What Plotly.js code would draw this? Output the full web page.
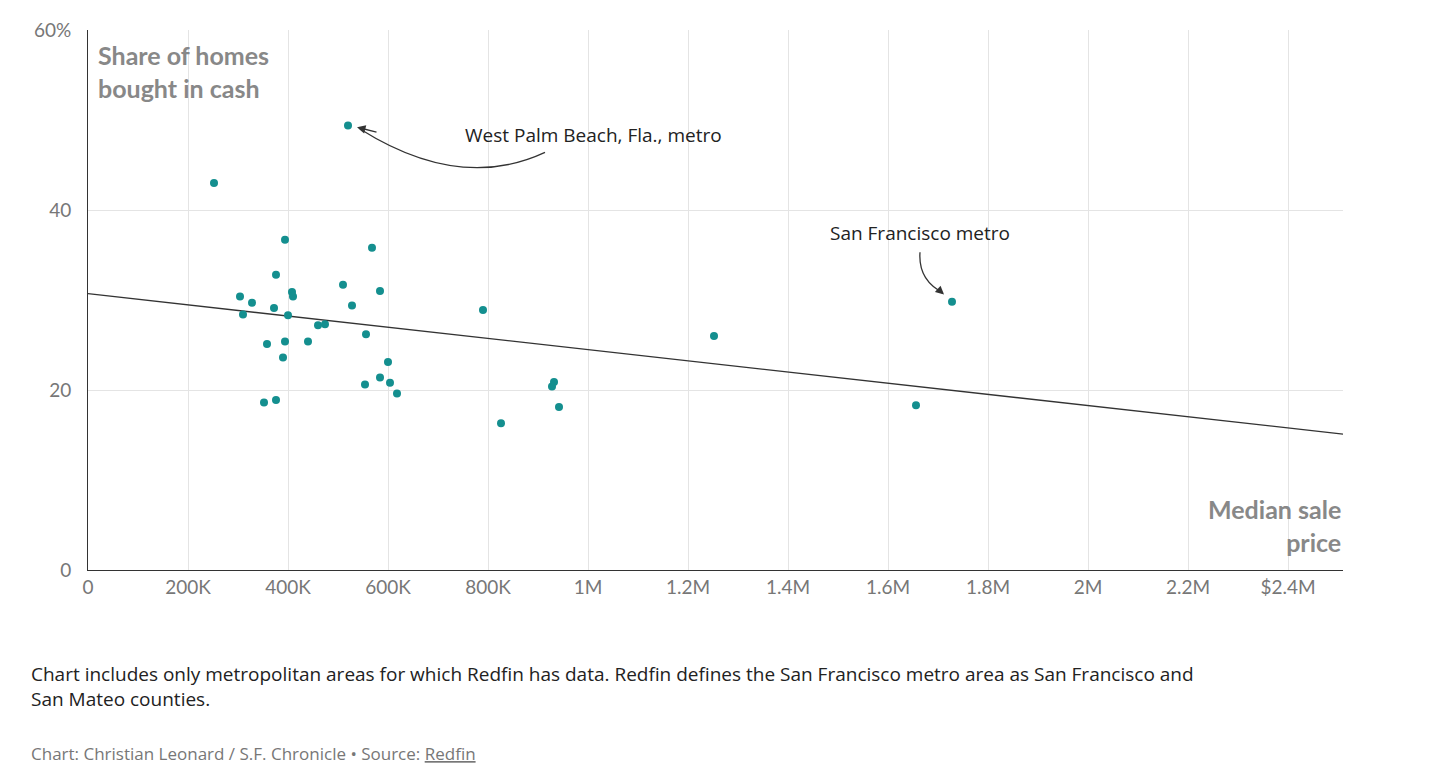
<!DOCTYPE html>
<html>
<head>
<meta charset="utf-8">
<script src="https://cdn.plot.ly/plotly-3.0.1.min.js"></script>
<style>body{margin:0;background:#fff;}</style>
</head>
<body>
<div id="chart" style="width:1434px;height:772px;"></div>
<script>
// median sale price (dollars) and share bought in cash (%)
var price = [252000, 520000, 304000, 310000, 328000, 376000, 372000, 358000, 352000, 376000,
  394000, 400000, 394000, 390000, 408000, 410000, 440000, 460000, 474000, 510000,
  528000, 568000, 556000, 554000, 584000, 584000, 600000, 604000, 618000, 790000,
  826000, 928000, 932000, 942000, 1252000, 1656000, 1728000];
var cashShare = [43.0, 49.4, 30.4, 28.4, 29.7, 32.8, 29.1, 25.1, 18.6, 18.9,
  36.7, 28.3, 25.4, 23.6, 30.9, 30.4, 25.4, 27.2, 27.3, 31.7,
  29.4, 35.8, 26.2, 20.6, 31.0, 21.4, 23.1, 20.8, 19.6, 28.9,
  16.3, 20.4, 20.9, 18.1, 26.0, 18.3, 29.8];
var trendX = [0, 2510000];
var trendY = [30.7, 15.1];

var tickVals = [0, 200000, 400000, 600000, 800000, 1000000, 1200000, 1400000, 1600000, 1800000, 2000000, 2200000, 2400000];
var tickText = ['0', '200K', '400K', '600K', '800K', '1M', '1.2M', '1.4M', '1.6M', '1.8M', '2M', '2.2M', '$2.4M'];

var gray = '#777';
var font = 'Lato, "Open Sans", sans-serif';
var noteFont = '"Open Sans", sans-serif';

var data = [
  {x: trendX, y: trendY, mode: 'lines', line: {color: '#333', width: 1.3}, hoverinfo: 'skip'},
  {x: price, y: cashShare, mode: 'markers', marker: {color: '#148f8f', size: 8}}
];

var layout = {
  width: 1434, height: 772,
  margin: {l: 88, r: 91, t: 30, b: 202},
  showlegend: false,
  plot_bgcolor: '#fff', paper_bgcolor: '#fff',
  font: {family: font, color: gray},
  xaxis: {range: [0, 2510000], tickvals: tickVals, ticktext: tickText, showgrid: true,
    gridcolor: '#e4e4e4', zeroline: false, showline: true, linecolor: '#333',
    tickfont: {size: 19, color: gray}, ticks: '', fixedrange: true},
  yaxis: {range: [0, 60], tickvals: [0, 20, 40, 60], ticktext: ['0', '20', '40', '60%'],
    gridcolor: '#e4e4e4', zeroline: false, showline: true, linecolor: '#333',
    tickfont: {size: 19, color: gray}, ticks: 'outside', ticklen: 12, tickcolor: 'rgba(0,0,0,0)'},
  shapes: [
    {type: 'path', xref: 'x', yref: 'y', path: 'M914000,46.4 Q744000,42.0 544000,49.0',
      line: {color: '#333', width: 1.3}},
    {type: 'path', xref: 'x', yref: 'y', path: 'M1664000,35.3 Q1660000,32.2 1710000,30.8',
      line: {color: '#333', width: 1.3}}
  ],
  annotations: [
    {xref: 'paper', yref: 'paper', x: 0.006, y: 0.985, xanchor: 'left', yanchor: 'top', align: 'left',
      showarrow: false, text: '<b>Share of homes<br>bought in cash</b>', font: {size: 25, color: '#888'}},
    {xref: 'paper', yref: 'paper', x: 1, y: 0.02, xanchor: 'right', yanchor: 'bottom', align: 'right',
      showarrow: false, text: '<b>Median sale<br>price</b>', font: {size: 25, color: '#888'}},
    {xref: 'x', yref: 'y', x: 1010000, y: 48.3, showarrow: false, text: 'West Palm Beach, Fla., metro',
      font: {family: noteFont, size: 19, color: '#222'}},
    {xref: 'x', yref: 'y', x: 1664000, y: 37.5, showarrow: false, text: 'San Francisco metro',
      font: {family: noteFont, size: 19, color: '#222'}},
    {xref: 'x', yref: 'y', x: 538000, y: 49.2, ax: 580000, ay: 48.6, axref: 'x', ayref: 'y',
      text: '', showarrow: true, arrowhead: 2, arrowsize: 1.3, arrowwidth: 1.3, arrowcolor: '#333'},
    {xref: 'x', yref: 'y', x: 1712000, y: 30.6, ax: 1700000, ay: 31.2, axref: 'x', ayref: 'y',
      text: '', showarrow: true, arrowhead: 2, arrowsize: 1.3, arrowwidth: 1.3, arrowcolor: '#333'},
    {xref: 'paper', yref: 'paper', x: -0.047, y: -0.165, xanchor: 'left', yanchor: 'top', align: 'left',
      showarrow: false, font: {family: noteFont, size: 19, color: '#222'},
      text: 'Chart includes only metropolitan areas for which Redfin has data. Redfin defines the San Francisco metro area as San Francisco and<br>San Mateo counties.'},
    {xref: 'paper', yref: 'paper', x: -0.047, y: -0.315, xanchor: 'left', yanchor: 'top', align: 'left',
      showarrow: false, font: {family: noteFont, size: 17, color: gray},
      text: 'Chart: Christian Leonard / S.F. Chronicle • Source: <u>Redfin</u>'}
  ]
};

Plotly.newPlot('chart', data, layout, {displayModeBar: false, staticPlot: true});
</script>
</body>
</html>
